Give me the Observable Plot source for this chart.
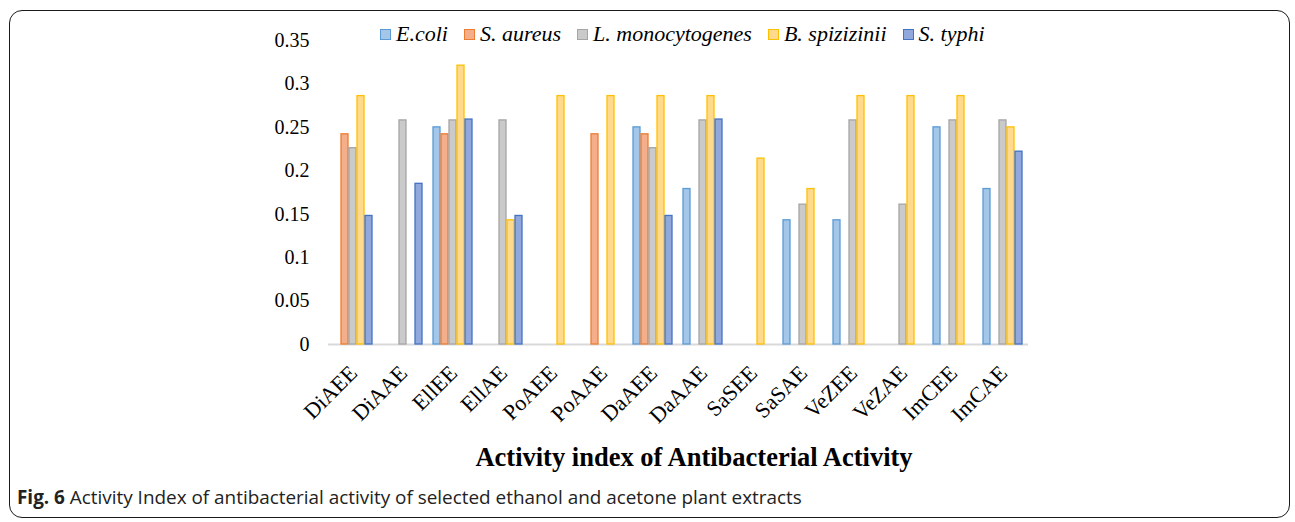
<!DOCTYPE html>
<html>
<head>
<meta charset="utf-8">
<script src="https://cdn.jsdelivr.net/npm/d3@7"></script>
<script src="https://cdn.jsdelivr.net/npm/@observablehq/plot@0.6"></script>
<style>
  html, body { margin: 0; padding: 0; background: #fff; }
  #page { position: relative; width: 1295px; height: 522px; overflow: hidden; }
  #frame { position: absolute; left: 9px; top: 10px; width: 1281px; height: 508px;
           border: 1.6px solid #1a1a1a; border-radius: 13px; box-sizing: border-box; }
  #chart { position: absolute; left: 0; top: 0; }
  #legend { position: absolute; left: 380px; top: 21px; display: flex; align-items: center;
            font-family: "Liberation Serif", serif; font-style: italic; font-size: 22px; color: #000; white-space: nowrap; }
  #legend .item { display: flex; align-items: center; margin-right: 16px; }
  #legend .sw { width: 9px; height: 9px; margin-right: 5px; border: 1px solid; }
  #xtitle { position: absolute; left: 0; width: 1388px; text-align: center; top: 442px;
            font-family: "Liberation Serif", serif; font-weight: bold; font-size: 26.5px; color: #000; }
  #caption { position: absolute; left: 17px; top: 484px; font-family: "Open Sans", sans-serif;
             font-size: 18.9px; color: #222; white-space: nowrap; }
  #caption b { font-weight: 700; }
  #chart svg [aria-label="fx-axis tick label"] { font-size: 22px; }
  #chart svg [aria-label="y-axis tick label"] { font-size: 20px; }
</style>
</head>
<body>
<div id="page">
  <div id="frame"></div>
  <div id="chart"></div>
  <div id="legend"></div>
  <div id="xtitle">Activity index of Antibacterial Activity</div>
  <div id="caption"><b>Fig. 6</b> Activity Index of antibacterial activity of selected ethanol and acetone plant extracts</div>
</div>
<script>
const categories = ["DiAEE","DiAAE","EllEE","EllAE","PoAEE","PoAAE","DaAEE","DaAAE","SaSEE","SaSAE","VeZEE","VeZAE","ImCEE","ImCAE"];
const seriesNames = ["E.coli","S. aureus","L. monocytogenes","B. spizizinii","S. typhi"];
const eColi   = [0, 0, 0.250, 0, 0, 0, 0.250, 0.179, 0, 0.143, 0.143, 0, 0.250, 0.179];
const sAureus = [0.242, 0, 0.242, 0, 0, 0.242, 0.242, 0, 0, 0, 0, 0, 0, 0];
const lMono   = [0.226, 0.258, 0.258, 0.258, 0, 0, 0.226, 0.258, 0, 0.161, 0.258, 0.161, 0.258, 0.258];
const bSpiz   = [0.286, 0, 0.321, 0.143, 0.286, 0.286, 0.286, 0.286, 0.214, 0.179, 0.286, 0.286, 0.286, 0.250];
const sTyphi  = [0.148, 0.185, 0.259, 0.148, 0, 0, 0.148, 0.259, 0, 0, 0, 0, 0, 0.222];
const yTicks = [0, 0.05, 0.1, 0.15, 0.2, 0.25, 0.3, 0.35];
const yTickLabels = ["0", "0.05", "0.1", "0.15", "0.2", "0.25", "0.3", "0.35"];
const fillColors   = ["#a3c6e9", "#f4ae8a", "#cacaca", "#ffd98c", "#91a8dc"];
const strokeColors = ["#5b9bd5", "#ed7d31", "#a5a5a5", "#ffc000", "#4472c4"];

const seriesValues = [eColi, sAureus, lMono, bSpiz, sTyphi];
const data = [];
categories.forEach((c, i) => {
  seriesNames.forEach((s, j) => {
    data.push({cat: c, series: s, value: seriesValues[j][i], k: j});
  });
});
const bars = data.filter(d => d.value > 0);

const chart = Plot.plot({
  width: 1295,
  height: 470,
  marginTop: 40,
  marginBottom: 126,
  marginLeft: 325,
  marginRight: 265,
  style: {fontFamily: "Liberation Serif, serif", fontSize: "19px", color: "#000", background: "transparent"},
  fx: {domain: categories, paddingInner: 0, paddingOuter: 0, tickRotate: -45, tickSize: 0, tickPadding: 25, label: null},
  x: {domain: seriesNames, paddingInner: 0.1, paddingOuter: 0.36, axis: null},
  y: {domain: [0, 0.35], ticks: yTicks, tickFormat: (d) => yTickLabels[yTicks.indexOf(d)], tickSize: 0, tickPadding: 19, label: null},
  color: {type: "identity"},
  marks: [
    Plot.ruleY([0], {stroke: "#d9d9d9", strokeWidth: 2}),
    Plot.barY(bars, {
      fx: "cat", x: "series", y: "value",
      fill: d => fillColors[d.k], stroke: d => strokeColors[d.k], strokeWidth: 1.3
    })
  ]
});
document.getElementById("chart").appendChild(chart);

const legend = document.getElementById("legend");
seriesNames.forEach((s, j) => {
  const item = document.createElement("div");
  item.className = "item";
  const sw = document.createElement("span");
  sw.className = "sw";
  sw.style.background = fillColors[j];
  sw.style.borderColor = strokeColors[j];
  const t = document.createElement("span");
  t.textContent = s;
  item.appendChild(sw);
  item.appendChild(t);
  legend.appendChild(item);
});
</script>
</body>
</html>
